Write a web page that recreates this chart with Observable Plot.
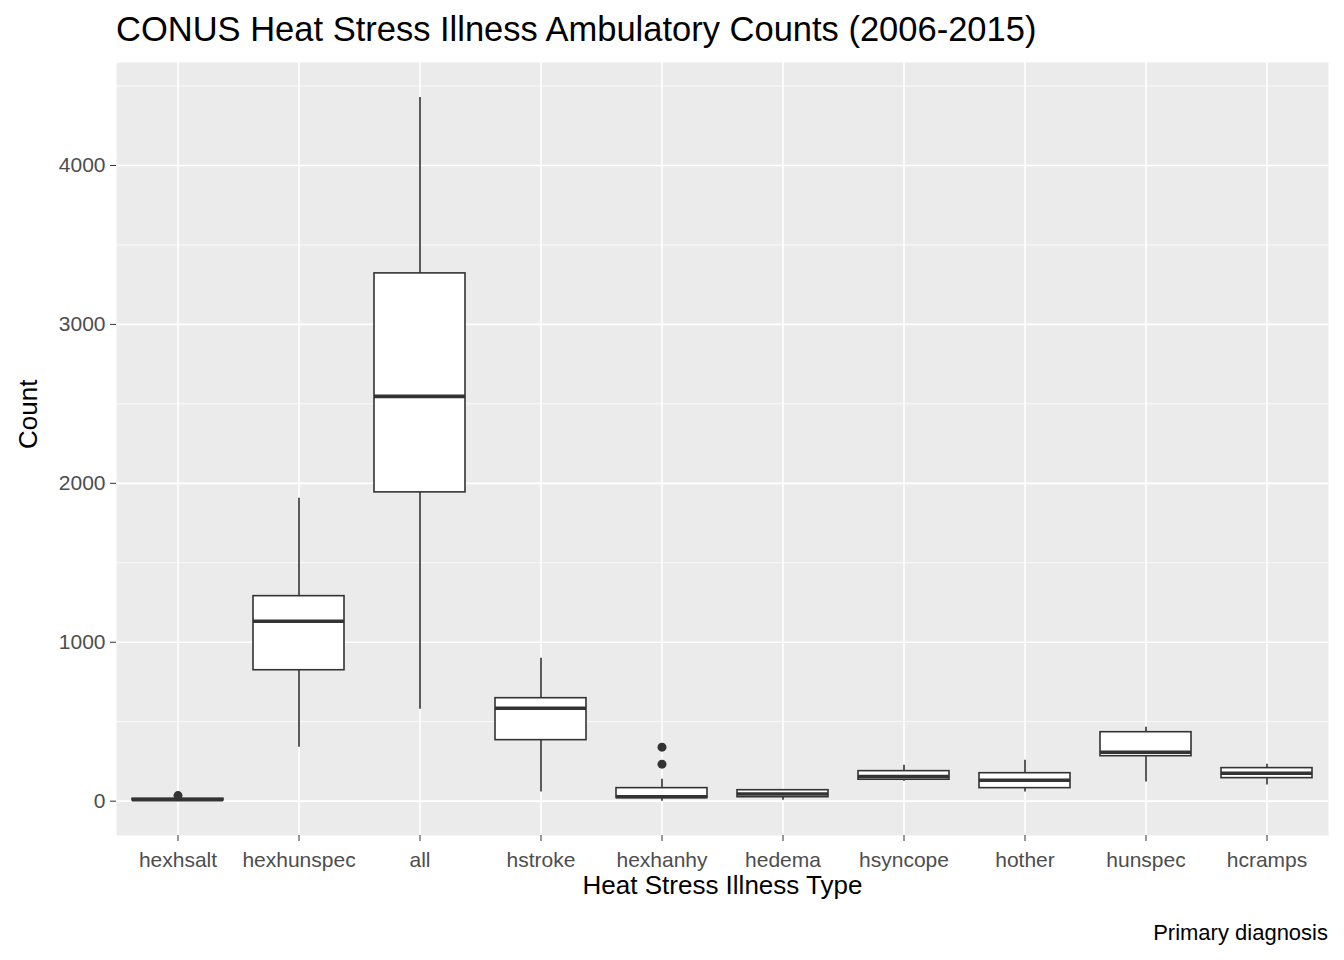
<!DOCTYPE html>
<html><head><meta charset="utf-8">
<script src="https://cdn.jsdelivr.net/npm/d3@7"></script>
<script src="https://cdn.jsdelivr.net/npm/@observablehq/plot@0.6"></script>
<style>
body{margin:0;background:#fff;font-family:"Liberation Sans",Arial,sans-serif;width:1344px}
#title{height:62px;font-size:34.5px;padding-left:116px;line-height:58px;color:#000}
#cap{text-align:right;font-size:22px;padding-right:16px;margin-top:0px}
</style></head>
<body>
<div id="title">CONUS Heat Stress Illness Ambulatory Counts (2006-2015)</div>
<div id="chart"></div>
<div id="cap">Primary diagnosis</div>
<script>
const types = ["hexhsalt","hexhunspec","all","hstroke","hexhanhy","hedema","hsyncope","hother","hunspec","hcramps"];
const lowWhisker = [0, 340, 579, 57, 0, 6, 126, 57, 120, 101];
const q1 = [5, 824, 1943, 384, 20, 25, 135, 82, 283, 145];
const median = [10, 1132, 2547, 585, 28, 45, 155, 132, 308, 176];
const q3 = [15, 1290, 3321, 648, 82, 69, 189, 176, 434, 208];
const highWhisker = [20, 1906, 4428, 899, 138, 72, 226, 258, 465, 233];
const outlierType = ["hexhsalt","hexhanhy","hexhanhy"];
const outlierValue = [35, 340, 233];

const boxes = types.map((t, i) => ({type: t, lo: lowWhisker[i], q1: q1[i], med: median[i], q3: q3[i], hi: highWhisker[i]}));
const outliers = outlierType.map((t, i) => ({type: t, value: outlierValue[i]}));

const chart = Plot.plot({
  width: 1344, height: 858,
  marginTop: 0, marginLeft: 116, marginRight: 16, marginBottom: 85,
  style: {fontFamily: "Liberation Sans, Arial, sans-serif"},
  x: {domain: types, paddingInner: 0.25, paddingOuter: 0.125, label: null},
  y: {domain: [-216, 4648], label: null},
  marks: [
    Plot.frame({fill: "#EBEBEB", stroke: null}),
    Plot.gridY(d3.range(500, 4600, 1000), {stroke: "#fff", strokeOpacity: 1, strokeWidth: 0.8}),
    Plot.gridY([0, 1000, 2000, 3000, 4000], {stroke: "#fff", strokeOpacity: 1, strokeWidth: 1.6}),
    Plot.gridX(types, {stroke: "#fff", strokeOpacity: 1, strokeWidth: 1.6}),
    Plot.axisY([0, 1000, 2000, 3000, 4000], {tickSize: 6, stroke: "#333", fontSize: 21, fill: "#4D4D4D", tickPadding: 5, tickFormat: d => String(d)}),
    Plot.axisX({tickSize: 6, stroke: "#333", fontSize: 21, fill: "#4D4D4D", tickPadding: 11}),
    Plot.ruleX(boxes, {x: "type", y1: "lo", y2: "q1", stroke: "#333", strokeWidth: 1.6}),
    Plot.ruleX(boxes, {x: "type", y1: "q3", y2: "hi", stroke: "#333", strokeWidth: 1.6}),
    Plot.barY(boxes, {x: "type", y1: "q1", y2: "q3", fill: "#fff", stroke: "#333", strokeWidth: 1.6}),
    Plot.tickY(boxes, {x: "type", y: "med", stroke: "#333", strokeWidth: 3.6}),
    Plot.dot(outliers, {x: "type", y: "value", r: 4.5, fill: "#333", stroke: null}),
    Plot.text(["Heat Stress Illness Type"], {frameAnchor: "bottom", dy: 58, fontSize: 26, fill: "#000"}),
    Plot.text(["Count"], {frameAnchor: "left", dx: -88, rotate: -90, fontSize: 26, fill: "#000"})
  ]
});
document.getElementById("chart").append(chart);
</script>
</body></html>
